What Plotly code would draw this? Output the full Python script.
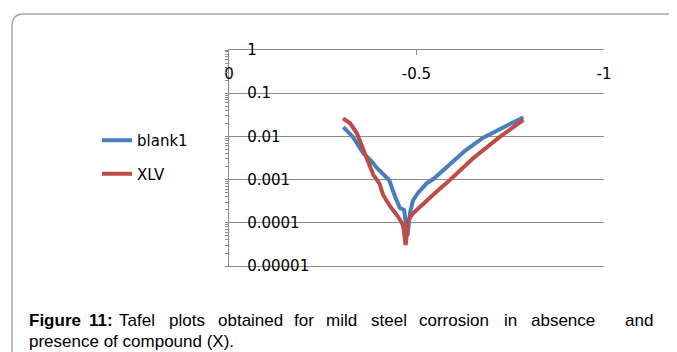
import plotly.graph_objects as go

# ---- data ----
blank_potential = [-0.305, -0.331, -0.358, -0.381, -0.395, -0.427, -0.443, -0.456, -0.467,
                   -0.472, -0.476, -0.483, -0.491, -0.504, -0.527, -0.545, -0.589, -0.630, -0.678, -0.785]
blank_current = [0.0163, 0.00953, 0.00406, 0.00260, 0.00183, 0.00098, 0.000402, 0.000220, 0.000198,
                 0.0000889, 0.0000494, 0.000178, 0.000337, 0.00049, 0.00082, 0.00103, 0.00230, 0.0047,
                 0.00933, 0.0277]

xlv_potential = [-0.304, -0.323, -0.341, -0.358, -0.371, -0.385, -0.401, -0.411, -0.429, -0.451, -0.464,
                 -0.468, -0.471, -0.473, -0.478, -0.491, -0.518, -0.545, -0.589, -0.651, -0.723, -0.785]
xlv_current = [0.0262, 0.0201, 0.0118, 0.00484, 0.00238, 0.00128, 0.00082, 0.00044, 0.000245, 0.000138,
               0.0000889, 0.0000400, 0.0000306, 0.0000445, 0.000116, 0.000166, 0.000283, 0.000452,
               0.00098, 0.00311, 0.00984, 0.0240]

series_names = ["blank1", "XLV"]
x_tickvals = [0, -0.5, -1]
x_ticktext = ["0", "-0.5", "-1"]
y_tickvals = [1, 0.1, 0.01, 0.001, 0.0001, 0.00001]
y_ticktext = ["1", "0.1", "0.01", "0.001", "0.0001", "0.00001"]

caption_line1 = ["<b>Figure</b>", "<b>11:</b>", "Tafel", "plots", "obtained", "for", "mild",
                 "steel", "corrosion", "in", "absence", "and"]
caption_line2 = "presence of compound (X)."

# ---- geometry (the page body has an 8 px margin, so the figure is offset) ----
OFF = 8
W, H = 677 - OFF, 352 - OFF
PLOT_L, PLOT_R, PLOT_T, PLOT_B = 229 - OFF, 604 - OFF, 50 - OFF, 266 - OFF
L, R, T, B = PLOT_L, W - PLOT_R, PLOT_T, H - PLOT_B
PW, PH = PLOT_R - PLOT_L, PLOT_B - PLOT_T


def px_to_paper_x(px):
    return (px - OFF - PLOT_L) / PW


def px_to_paper_y(py):
    return (PLOT_B - (py - OFF)) / PH


GRAY = "#8C8C8C"
TICKFONT = dict(family="DejaVu Sans", size=15, color="#000000")

fig = go.Figure()
fig.add_trace(go.Scatter(x=blank_potential, y=blank_current, name=series_names[0], mode="lines",
                         line=dict(color="#4A7EBB", width=4), legendgroup="a"))
fig.add_trace(go.Scatter(x=xlv_potential, y=xlv_current, name=series_names[1], mode="lines",
                         line=dict(color="#BE4B48", width=4), legendgroup="b"))

fig.update_layout(
    width=W, height=H,
    margin=dict(l=L, r=R, t=T, b=B, autoexpand=False),
    paper_bgcolor="white", plot_bgcolor="white",
    showlegend=True,
    legend=dict(xref="container", yref="container", x=(97 - OFF) / W, y=1 - (124 - OFF) / H,
                xanchor="left", yanchor="top", traceorder="grouped", tracegroupgap=11,
                font=dict(family="DejaVu Sans", size=15, color="#000000"),
                bgcolor="rgba(0,0,0,0)"),
    xaxis=dict(range=[0, -1], side="top", tickmode="array", tickvals=x_tickvals, ticktext=x_ticktext,
               ticks="inside", ticklen=5, tickcolor=GRAY, showline=True, mirror=True, linecolor=GRAY,
               linewidth=1.3, showgrid=False, zeroline=False, ticklabelposition="inside",
               ticklabelstandoff=13, ticklabeloverflow="allow", tickfont=TICKFONT, fixedrange=True),
    yaxis=dict(type="log", range=[-5, 0], tickmode="array", tickvals=y_tickvals, ticktext=y_ticktext,
               ticks="outside", ticklen=3, tickcolor=GRAY, showline=True, linecolor=GRAY, linewidth=1.3,
               showgrid=True, gridcolor=GRAY, gridwidth=1.3, zeroline=False,
               ticklabelposition="inside", ticklabelstandoff=18, ticklabeloverflow="allow",
               tickfont=TICKFONT,
               minor=dict(ticks="outside", ticklen=3, tickcolor=GRAY, dtick="D1", showgrid=False),
               fixedrange=True),
)

# outer rounded frame (open on the right and bottom)
fig.add_shape(type="path", xref="paper", yref="paper",
              path=(f"M {px_to_paper_x(690)},{px_to_paper_y(14)} L {px_to_paper_x(24)},{px_to_paper_y(14)} "
                    f"Q {px_to_paper_x(12)},{px_to_paper_y(14)} {px_to_paper_x(12)},{px_to_paper_y(26)} "
                    f"L {px_to_paper_x(12)},{px_to_paper_y(370)}"),
              line=dict(color="#A6A6A6", width=1.5), layer="below")

# caption (justified first line)
word_x = [27.7, 88.3, 118.3, 168.3, 216.7, 293.3, 325, 370, 418.3, 503.3, 530, 624]
for w, x in zip(caption_line1, word_x):
    fig.add_annotation(text=w, xref="paper", yref="paper", x=px_to_paper_x(x), y=px_to_paper_y(320),
                       xanchor="left", yanchor="middle", showarrow=False, borderpad=0,
                       font=dict(family="Liberation Sans", size=17, color="#000000"))
fig.add_annotation(text=caption_line2, xref="paper", yref="paper", x=px_to_paper_x(27.7),
                   y=px_to_paper_y(341), xanchor="left", yanchor="middle", showarrow=False, borderpad=0,
                   font=dict(family="Liberation Sans", size=17, color="#000000"))

fig.write_html("out.html")
